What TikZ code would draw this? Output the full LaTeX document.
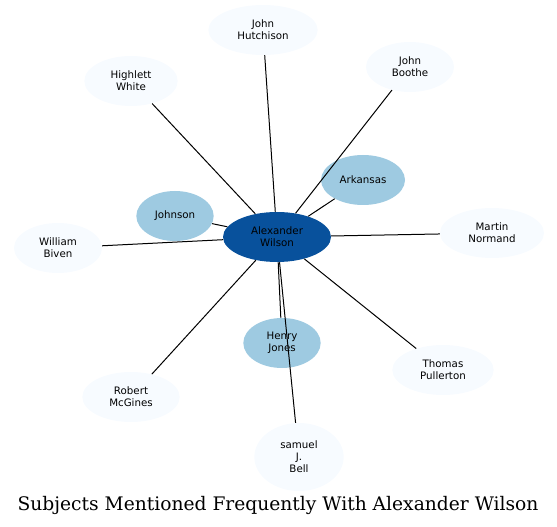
\documentclass[tikz,border=0pt]{standalone}
\usepackage{fontspec}
\setmainfont{DejaVu Serif}
\setsansfont{DejaVu Sans}
\usetikzlibrary{shapes.geometric}
\definecolor{DeepBlue}{HTML}{08519C}
\definecolor{MidBlue}{HTML}{9ECAE1}
\definecolor{PaleBlue}{HTML}{F7FBFF}

\begin{document}
\begin{tikzpicture}[x=0.75pt, y=-0.75pt,
    person/.style={ellipse, inner sep=0pt, minimum height=37.5pt, align=center,
        font=\sffamily\fontsize{7.7}{9}\selectfont},
    hub/.style={person, fill=DeepBlue},
    near/.style={person, fill=MidBlue},
    far/.style={person, fill=PaleBlue},
    link/.style={black, line width=0.75pt}]

\useasboundingbox (0,0) rectangle (557,527);

% nodos
\node[hub, minimum width=81pt] (wilson) at (277,237) {Alexander\\Wilson};
\node[near, minimum width=63pt] (arkansas) at (363,180) {Arkansas};
\node[near, minimum width=58pt] (johnson) at (175,216) {Johnson};
\node[near, minimum width=58pt] (jones) at (282,343) {Henry\\Jones};
\node[far, minimum width=82pt] (hutchison) at (263,30) {John\\Hutchison};
\node[far, minimum width=66pt] (boothe) at (410,67) {John\\Boothe};
\node[far, minimum width=70pt] (white) at (131,81) {Highlett\\White};
\node[far, minimum width=66pt] (biven) at (58,248) {William\\Biven};
\node[far, minimum width=78pt] (normand) at (492,233) {Martin\\Normand};
\node[far, minimum width=76pt] (pullerton) at (443,370) {Thomas\\Pullerton};
\node[far, minimum width=73pt] (mcgines) at (131,397) {Robert\\McGines};
\node[far, minimum width=67pt, minimum height=51pt] (bell) at (299,457) {samuel\\J.\\Bell};

% aristas
\foreach \n in {arkansas, johnson, jones, hutchison, boothe, white, biven,
    normand, pullerton, mcgines, bell}
    \draw[link] (wilson) -- (\n);

\node[font=\fontsize{14}{16}\selectfont] (title) at (278,505)
    {Subjects Mentioned Frequently With Alexander Wilson};

\end{tikzpicture}
\end{document}
